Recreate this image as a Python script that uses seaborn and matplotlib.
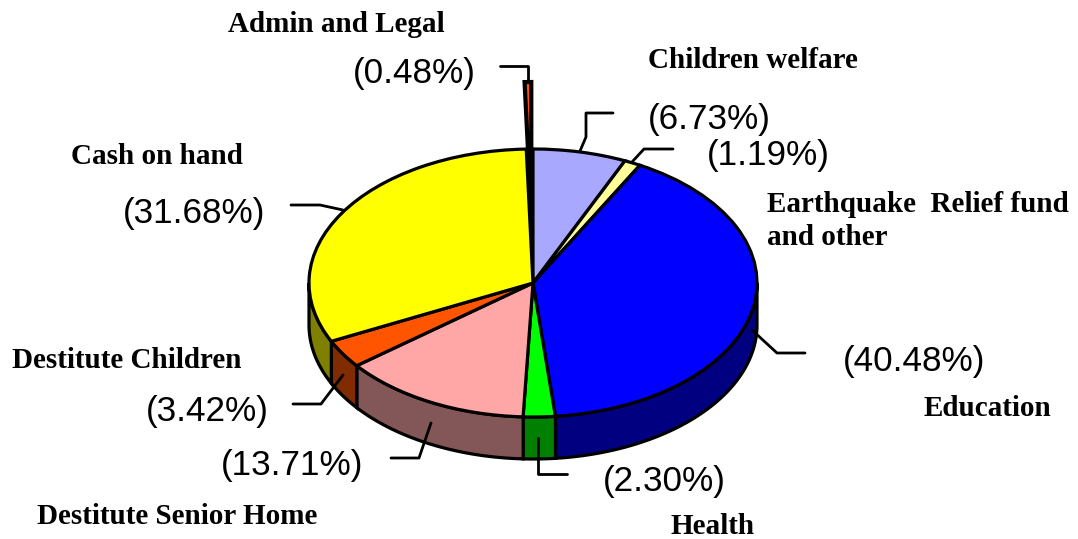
import numpy as np
import seaborn as sns
import matplotlib.pyplot as plt

sns.set_theme(style="white")

labels = ["Children welfare", "Earthquake  Relief fund\nand other", "Education", "Health",
          "Destitute Senior Home", "Destitute Children", "Cash on hand", "Admin and Legal"]
values = [6.73, 1.19, 40.48, 2.30, 13.71, 3.42, 31.68, 0.48]
top_colors = ["#A8A8FF", "#FFFF99", "#0000FF", "#00FF00", "#FFA6A6", "#FF5500", "#FFFF00", "#FF5500"]
side_colors = ["#545480", "#80804C", "#000080", "#008000", "#835757", "#802B00", "#808000", "#802B00"]
explode = [0, 0, 0, 0, 0, 0, 0, 0.5]

W, H = 1078, 539
cx, cy, rx, ry = 533, 283, 224, 134
depth = 42 / ry

fig = plt.figure(figsize=(W / 100, H / 100), dpi=100)
ax = fig.add_axes([0, 0, 1, 1])
line_style = {"edgecolor": "black", "linewidth": 2.3}

# side wall, only the front half of the disc shows
edges = 90 - 3.6 * np.concatenate([[0], np.cumsum(values)])
for i, color in enumerate(side_colors):
    t_hi = min(edges[i], 0)
    t_lo = max(edges[i + 1], -180)
    if t_hi <= t_lo or i == len(values) - 1:
        continue
    t = np.radians(np.linspace(t_hi, t_lo, 60))
    x = np.cos(t)
    y = np.sin(t)
    ax.fill(np.r_[x, x[::-1]], np.r_[y, y[::-1] - depth], facecolor=color, zorder=1, **line_style)

# black slot left behind by the pulled out slice
ax.pie(values, colors=["none"] * 7 + ["black"], startangle=90, counterclock=False,
       wedgeprops={"edgecolor": "none", "zorder": 2})
wedges, _ = ax.pie(values, colors=top_colors, explode=explode, startangle=90, counterclock=False,
                   wedgeprops={**line_style, "zorder": 3})
wedges[-1].set_linewidth(3)

ax.set_aspect("auto")
ax.set_xlim(-cx / rx, (W - cx) / rx)
ax.set_ylim((cy - H) / ry, cy / ry)
ax.axis("off")

# labels and leader lines in pixel coordinates
over = fig.add_axes([0, 0, 1, 1])
over.set_xlim(0, W)
over.set_ylim(H, 0)
over.axis("off")
over.patch.set_alpha(0)

heading_pos = [(753, 61), (767, 221), (987, 408), (713, 526), (177, 517), (127, 361), (157, 157), (336, 25)]
percent_pos = [(709, 120), (768, 156), (914, 361), (664, 481), (292, 465), (207, 411), (194, 214), (414, 73)]
leaders = [
    [(580, 151), (586, 137), (586, 113), (613, 113)],
    [(632, 162), (644, 149), (673, 149)],
    [(752, 330), (777, 353), (805, 353)],
    [(538, 438), (538, 474), (567, 474)],
    [(431, 423), (419, 458), (391, 458)],
    [(343, 375), (321, 404), (293, 404)],
    [(343, 210), (320, 205), (291, 205)],
    [(528, 82), (528, 66), (500, 66)],
]

for i, label in enumerate(labels):
    hx, hy = heading_pos[i]
    if "\n" in label:
        over.text(767, hy, label, family="Liberation Serif", fontweight="bold", fontsize=21,
                  ha="left", va="center", linespacing=1.25, color="black")
    else:
        over.text(hx, hy, label, family="Liberation Serif", fontweight="bold", fontsize=21,
                  ha="center", va="center", color="black")
    px, py = percent_pos[i]
    over.text(px, py, f"({values[i]:.2f}%)", family="Liberation Sans", fontsize=25.3,
              ha="center", va="center", color="black")
    lx, ly = zip(*leaders[i])
    over.plot(lx, ly, color="black", linewidth=2)

over.set_xlim(0, W)
over.set_ylim(H, 0)
fig.savefig("out.png", dpi=100, facecolor="white")
